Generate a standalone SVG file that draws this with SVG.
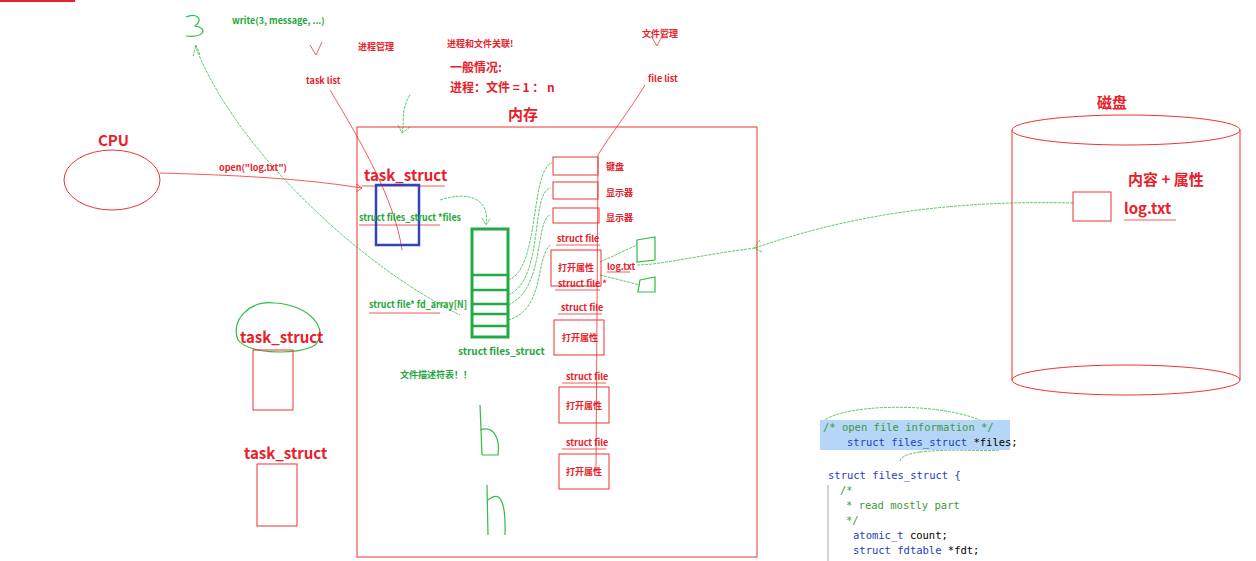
<svg xmlns="http://www.w3.org/2000/svg" width="1256" height="561" viewBox="0 0 1256 561">
<style>
text{font-family:"Noto Sans CJK SC","Liberation Sans",sans-serif;font-weight:bold}
.r{fill:#e8202a}.g{fill:#22a83a}
.s{font-size:9px}.m{font-size:10px}.b{font-size:15px}
.rb{fill:none;stroke:#ee3333;stroke-width:1}
.rl{fill:none;stroke:#ee3333;stroke-width:0.8}
.gl{fill:none;stroke:#33bb44;stroke-width:0.8;stroke-dasharray:3 1}
.gs{fill:none;stroke:#33bb44;stroke-width:1.2}
.code{font-family:"DejaVu Sans Mono","Liberation Mono",monospace;font-weight:normal;font-size:10.5px}
</style>
<rect width="1256" height="561" fill="#fff"/>
<rect x="0" y="0" width="75" height="2" fill="#e8202a"/>
<g id="connectors">
<path class="rl" d="M160 173 C230 175 300 178 362 188"/>
<path class="rl" d="M356 184 L362 188 L356 192"/>
<path class="rl" d="M330 90 C360 140 395 200 402 250"/>
<path class="rl" d="M645 85 C630 110 610 135 598 155"/>
<path class="rl" d="M598 155 L596 470"/>
<path class="gl" d="M410 95 C400 110 405 125 402 132"/>
<path class="gl" d="M398 125 L402 133 L410 127"/>
<path class="gl" d="M440 200 C470 190 490 200 486 224"/>
<path class="gl" d="M482 218 L486 225 L490 219"/>
<path class="gl" d="M508 280 C540 270 530 170 552 163"/>
<path class="gl" d="M508 295 C545 280 530 190 551 188"/>
<path class="gl" d="M508 305 C545 290 535 220 550 215"/>
<path class="gl" d="M508 320 C545 310 535 260 550 245"/>
<path class="gl" d="M195 45 C230 140 350 260 460 315"/>
<path class="gl" d="M200 55 L196 45 L193 56"/>
<path class="gl" d="M1073 203 C950 200 850 215 755 248"/>
<path class="gl" d="M760 240 L754 248 L762 252"/>
<path class="gl" d="M755 248 C700 255 660 265 637 265"/>
<path class="gl" d="M600 262 L637 245"/>
<path class="gl" d="M600 275 L640 285"/>
<path class="gs" d="M637 240 L655 237 L655 260 L637 262 Z M640 280 L655 277 L655 292 L638 292 Z"/>
<path class="gl" d="M820 425 C830 405 930 400 980 420 C990 435 930 440 830 435 Z"/>
<path class="gl" d="M920 452 C960 448 980 452 1000 450 M920 452 C900 455 900 460 900 462"/>
<path class="gs" d="M480 405 L482 455 M480 430 C495 425 500 440 498 455 L482 455"/>
<path class="gs" d="M487 485 L488 535 M488 500 C500 490 506 500 505 535"/>
<path class="gs" d="M186 17 C195 13 205 18 195 26 C208 28 205 38 186 36"/>
<path class="gs" d="M238 340 C230 320 250 300 275 303 C310 305 330 330 315 345 C300 355 250 355 238 340 Z"/>
<path class="rl" d="M310 45 L316 55 L322 42"/>
<path class="rl" d="M651 36 L657 46 L664 32"/>
<path d="M359 225H440M369 313H440M362 186H445M556 245H600M555 290H600M558 314H602M562 383H606M562 449H606M1124 220H1176M607 272H630" stroke="#ee3333" stroke-width="0.8"/>
</g>
<g id="cpu"><ellipse class="rb" cx="112" cy="180" rx="48" ry="30"/><text class="r b" x="98" y="146">CPU</text></g>
<g id="memory"><rect class="rb" x="357" y="127" width="400" height="430"/><text class="r b" x="508" y="120">内存</text></g>
<g id="task"><text class="r b" x="364" y="181">task_struct</text><rect x="376" y="185" width="43" height="60" fill="none" stroke="#3344bb" stroke-width="2.5"/>
<text class="g m" x="359" y="221" textLength="102" lengthAdjust="spacingAndGlyphs">struct files_struct *files</text></g>
<g id="files_struct">
<rect x="472" y="229" width="36" height="108" fill="none" stroke="#22aa44" stroke-width="3"/>
<path d="M472 275H508M472 290H508M472 304H508M472 314H508M472 326H508" stroke="#22aa44" stroke-width="2.5"/>
<text class="g m" x="369" y="308" textLength="98" lengthAdjust="spacingAndGlyphs">struct file* fd_array[N]</text>
<text class="g m" x="458" y="355">struct files_struct</text>
<text class="g s" x="400" y="378">文件描述符表！！</text></g>
<g id="devs">
<rect class="rb" x="553" y="157" width="45" height="18"/><text class="r s" x="606" y="170">键盘</text>
<rect class="rb" x="553" y="182" width="45" height="17"/><text class="r s" x="606" y="196">显示器</text>
<rect class="rb" x="553" y="208" width="46" height="15"/><text class="r s" x="606" y="221">显示器</text></g>
<g id="file1"><text class="r s" x="557" y="242">struct file</text><rect class="rb" x="551" y="250" width="50" height="36"/><text class="r s" x="558" y="271">打开属性</text><text class="r s" x="558" y="287">struct file *</text><text class="r s" x="607" y="270">log.txt</text></g>
<g id="file2"><text class="r s" x="561" y="311">struct file</text><rect class="rb" x="554" y="320" width="50" height="35"/><text class="r s" x="562" y="341">打开属性</text></g>
<g id="file3"><text class="r s" x="566" y="380">struct file</text><rect class="rb" x="559" y="387" width="50" height="36"/><text class="r s" x="566" y="409">打开属性</text></g>
<g id="file4"><text class="r s" x="566" y="446">struct file</text><rect class="rb" x="559" y="454" width="50" height="35"/><text class="r s" x="566" y="475">打开属性</text></g>
<g id="tasks2"><text class="r b" x="240" y="343">task_struct</text><rect class="rb" x="253" y="350" width="40" height="60"/>
<text class="r b" x="244" y="459">task_struct</text><rect class="rb" x="257" y="464" width="40" height="62"/></g>
<g id="disk"><path class="rb" d="M1012 130 V380 M1240 130 V380"/><ellipse class="rb" cx="1126" cy="130" rx="114" ry="15"/><ellipse class="rb" cx="1126" cy="380" rx="114" ry="15"/>
<text class="r b" x="1097" y="108">磁盘</text><text class="r b" x="1128" y="185">内容 + 属性</text><text class="r b" x="1124" y="214">log.txt</text>
<rect class="rb" x="1073" y="192" width="38" height="29"/></g>
<g id="labels">
<text class="g s" x="232" y="24">write(3, message, ...)</text>
<text class="r s" x="358" y="50">进程管理</text><text class="r s" x="447" y="47">进程和文件关联!</text><text class="r s" x="642" y="37">文件管理</text>
<text class="r" font-size="12" x="450" y="72">一般情况:</text><text class="r" font-size="12" x="450" y="92">进程：文件 = 1 ： n</text>
<text class="r s" x="306" y="84">task list</text><text class="r s" x="648" y="82">file list</text>
<text class="r s" x="219" y="171">open("log.txt")</text></g>
<g id="code">
<rect x="820" y="420" width="190" height="30" fill="#b5d6f7"/>
<text class="code" x="823" y="431" fill="#3a9a3a">/* open file information */</text>
<text class="code" x="847" y="446" fill="#2040c0">struct files_struct <tspan fill="#000">*files;</tspan></text>
<text class="code" x="828" y="479" fill="#2040c0">struct files_struct {</text>
<text class="code" x="840" y="494" fill="#3a9a3a">/*</text>
<text class="code" x="846" y="509" fill="#3a9a3a">* read mostly part</text>
<text class="code" x="846" y="524" fill="#3a9a3a">*/</text>
<text class="code" x="853" y="539" fill="#2040c0">atomic_t <tspan fill="#000">count;</tspan></text>
<text class="code" x="853" y="554" fill="#2040c0">struct fdtable <tspan fill="#000">*fdt;</tspan></text>
<path d="M828 485V561" stroke="#aaa" stroke-width="1"/></g>
</svg>
